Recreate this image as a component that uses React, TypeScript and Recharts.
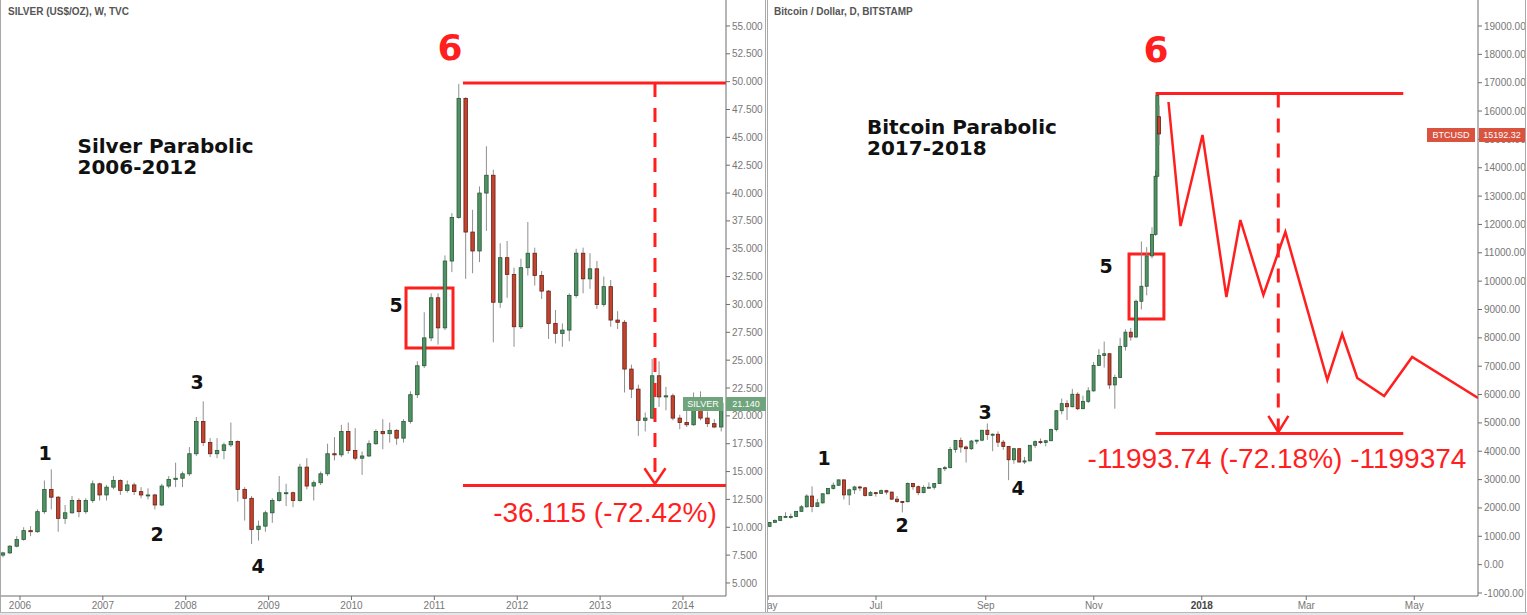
import React from 'react';
import { ComposedChart, Bar, Line, XAxis, YAxis, ReferenceLine, ReferenceArea } from 'recharts';

// ---- silver, monthly candles from Oct 2005 ----
const silverStartYear = 2005;
const silverStartMonth = 10;
const silverOpen = [
  7.5, 7.7, 8.3,
  8.9, 9.7, 9.6, 11.4, 13.4, 12.7, 10.8, 11.3, 12.4, 11.4, 12.4, 13.9,
  12.9, 13.6, 14.2, 13.3, 13.8, 13.2, 12.9, 12.9, 12.0, 13.7, 14.3, 14.4,
  14.8, 16.6, 19.5, 17.6, 16.6, 16.9, 17.4, 17.7, 13.4, 12.6, 9.8, 10.1,
  11.3, 12.4, 13.1, 13.1, 12.4, 15.4, 13.7, 14.0, 14.8, 16.6, 16.5, 18.6,
  16.9, 16.2, 16.4, 17.5, 18.6, 18.4, 18.7, 18.0, 19.5, 21.9, 24.5, 27.0,
  30.6, 27.9, 33.9, 37.8, 48.5, 36.5, 34.8, 40.0, 41.6, 30.2, 34.2, 32.7,
  28.0, 33.3, 34.6, 32.6, 31.2, 28.3, 27.4, 27.7, 30.8, 34.6, 32.3, 33.2,
  30.0, 31.6, 28.6, 28.4, 24.2, 22.4, 19.6, 19.8, 23.6, 21.7, 21.8, 19.8,
  19.4, 19.2, 21.3, 19.8, 19.3, 19.0,
];
const silverHigh = [
  7.8, 8.4, 9.2,
  10.0, 10.1, 11.6, 14.2, 15.2, 12.8, 12.0, 12.8, 12.6, 12.6, 14.2, 14.0,
  13.8, 14.6, 14.3, 14.2, 14.0, 13.6, 13.5, 13.0, 13.9, 14.6, 15.8, 15.0,
  17.2, 19.9, 21.3, 18.0, 18.0, 17.6, 19.4, 17.8, 13.6, 12.8, 10.6, 11.5,
  12.6, 14.6, 13.9, 13.2, 15.7, 16.2, 14.2, 15.0, 17.5, 18.1, 19.2, 19.4,
  18.9, 16.8, 17.8, 18.8, 19.7, 19.4, 18.8, 19.7, 22.2, 24.9, 29.3, 31.0,
  31.0, 34.4, 38.2, 49.8, 48.6, 38.5, 40.6, 44.2, 42.1, 35.5, 35.7, 33.3,
  34.1, 37.4, 35.1, 33.0, 31.3, 29.5, 28.3, 31.0, 35.0, 35.1, 34.6, 33.9,
  32.5, 32.2, 29.4, 28.6, 24.6, 22.8, 20.3, 25.1, 24.9, 22.6, 22.0, 20.1,
  20.6, 22.1, 22.2, 20.4, 19.7, 21.3,
];
const silverLow = [
  7.3, 7.6, 8.2,
  8.8, 9.2, 9.5, 11.2, 11.6, 9.6, 10.3, 11.2, 10.9, 11.2, 12.2, 12.4,
  12.4, 13.4, 12.9, 13.1, 12.9, 12.6, 12.5, 11.6, 11.9, 13.5, 13.6, 13.6,
  14.6, 16.4, 17.3, 16.3, 16.2, 16.1, 17.2, 12.3, 10.6, 8.5, 8.8, 9.6,
  10.4, 12.3, 11.9, 11.8, 12.3, 13.4, 12.4, 13.8, 14.6, 16.0, 16.3, 16.6,
  16.0, 14.7, 16.3, 17.4, 17.0, 17.6, 17.4, 17.6, 19.3, 21.6, 24.3, 26.7,
  26.4, 27.7, 32.9, 37.7, 32.3, 32.8, 33.8, 36.6, 26.6, 29.7, 30.6, 26.2,
  27.8, 32.6, 31.7, 30.5, 26.9, 26.5, 26.2, 26.7, 30.6, 31.0, 31.4, 29.6,
  29.8, 28.0, 27.8, 22.1, 21.6, 18.2, 18.6, 19.7, 20.8, 20.5, 19.6, 18.8,
  19.0, 19.1, 19.6, 19.0, 18.9, 18.6,
];
const silverClose = [
  7.7, 8.3, 8.9,
  9.7, 9.6, 11.4, 13.4, 12.7, 10.8, 11.3, 12.4, 11.4, 12.4, 13.9, 12.9,
  13.6, 14.2, 13.3, 13.8, 13.2, 12.9, 12.9, 12.0, 13.7, 14.3, 14.4, 14.8,
  16.6, 19.5, 17.6, 16.6, 16.9, 17.4, 17.7, 13.4, 12.6, 9.8, 10.1, 11.3,
  12.4, 13.1, 13.1, 12.4, 15.4, 13.7, 14.0, 14.8, 16.6, 16.5, 18.6, 16.9,
  16.2, 16.4, 17.5, 18.6, 18.4, 18.7, 18.0, 19.5, 21.9, 24.5, 27.0, 30.6,
  27.9, 33.9, 37.8, 48.5, 36.5, 34.8, 40.0, 41.6, 30.2, 34.2, 32.7, 28.0,
  33.3, 34.6, 32.6, 31.2, 28.3, 27.4, 27.7, 30.8, 34.6, 32.3, 33.2, 30.0,
  31.6, 28.6, 28.4, 24.2, 22.4, 19.6, 19.8, 23.6, 21.7, 21.8, 19.8, 19.4,
  19.2, 21.3, 19.8, 19.3, 19.0, 21.14,
];
const silverYearTicks = [2006, 2007, 2008, 2009, 2010, 2011, 2012, 2013, 2014];
const silverPriceTicks = [5, 7.5, 10, 12.5, 15, 17.5, 20, 22.5, 25, 27.5, 30, 32.5, 35, 37.5, 40, 42.5, 45, 47.5, 50, 52.5, 55];

// measured move on silver
const silverTop = 49.869;
const silverDrop = 36.115;

// ---- bitcoin, 3-day candles (day of 2017), last days daily ----
const btcDay = [121, 124, 127, 130, 133, 136, 139, 142, 145, 148, 151, 154, 157, 160, 163, 166, 169, 172, 175, 178, 181, 184, 187, 190, 193, 196, 199, 202, 205, 208, 211, 214, 217, 220, 223, 226, 229, 232, 235, 238, 241, 244, 247, 250, 253, 256, 259, 262, 265, 268, 271, 274, 277, 280, 283, 286, 289, 292, 295, 298, 301, 304, 307, 310, 313, 316, 319, 322, 325, 328, 331, 334, 337, 339, 340, 341];
const btcOpen = [1350, 1490, 1555, 1700, 1700, 1700, 1880, 2040, 2420, 2050, 2180, 2500, 2690, 2800, 2990, 2460, 2640, 2740, 2710, 2440, 2540, 2510, 2610, 2560, 2310, 2230, 2220, 2860, 2750, 2540, 2720, 2730, 2860, 3390, 3420, 4060, 4380, 4150, 4090, 4360, 4390, 4740, 4590, 4600, 4320, 4170, 3700, 4090, 3620, 3660, 4210, 4340, 4310, 4370, 4770, 5430, 5680, 5570, 6010, 5500, 5760, 6130, 7030, 7380, 7440, 6340, 6600, 7700, 8200, 8030, 9290, 9820, 10890, 11650, 13700, 15800];
const btcHigh = [1500, 1600, 1720, 1850, 1800, 1890, 2100, 2480, 2760, 2320, 2510, 2700, 2900, 3000, 2995, 2680, 2780, 2780, 2740, 2600, 2550, 2650, 2640, 2570, 2420, 2240, 2900, 2870, 2790, 2800, 2900, 2880, 3400, 3480, 4150, 4400, 4480, 4200, 4400, 4400, 4750, 4980, 4630, 4700, 4400, 4180, 4120, 4100, 3800, 4220, 4380, 4450, 4400, 4800, 5450, 5860, 5800, 6200, 6080, 5960, 6260, 7150, 7600, 7870, 7450, 6700, 8000, 8300, 8350, 9350, 11400, 11200, 11900, 13900, 16616, 16200];
const btcLow = [1340, 1480, 1540, 1680, 1620, 1690, 1870, 2020, 1850, 2040, 2150, 2480, 2650, 2780, 2300, 2100, 2490, 2600, 2400, 2420, 2400, 2500, 2470, 2290, 2180, 1840, 2200, 2640, 2450, 2520, 2700, 2650, 2850, 3300, 3400, 3950, 3950, 3600, 4050, 4250, 4350, 4400, 4000, 4150, 4050, 2980, 3560, 3600, 3550, 3650, 4120, 4250, 4170, 4360, 4700, 5300, 5100, 5550, 5450, 5500, 5700, 6100, 7000, 6950, 6200, 5500, 6580, 7550, 7900, 8000, 9000, 9500, 10800, 11600, 13600, 14800];
const btcClose = [1490, 1555, 1700, 1700, 1700, 1880, 2040, 2420, 2050, 2180, 2500, 2690, 2800, 2990, 2460, 2640, 2740, 2710, 2440, 2540, 2510, 2610, 2560, 2310, 2230, 2220, 2860, 2750, 2540, 2720, 2730, 2860, 3390, 3420, 4060, 4380, 4150, 4090, 4360, 4390, 4740, 4590, 4600, 4320, 4170, 3700, 4090, 3620, 3660, 4210, 4340, 4310, 4370, 4770, 5430, 5680, 5570, 6010, 5500, 5760, 6130, 7030, 7380, 7440, 6340, 6600, 7700, 8200, 8030, 9290, 9820, 10890, 11650, 13700, 16550, 15192.32];
const btcMonthTicks = [120, 181, 243, 304, 365, 424, 485];
const btcMonthLabels = ['May', 'Jul', 'Sep', 'Nov', '2018', 'Mar', 'May'];
const btcPriceTicks = [-1000, 0, 1000, 2000, 3000, 4000, 5000, 6000, 7000, 8000, 9000, 10000, 11000, 12000, 13000, 14000, 15000, 16000, 17000, 18000, 19000];

// hand-drawn projection path (day, price)
const btcPathDay = [346.2, 353.0, 365.4, 378.9, 386.8, 399.8, 412.2, 435.9, 444.3, 452.8, 468.0, 483.8, 521];
const btcPathPrice = [16319, 11945, 15155, 9441, 12157, 9511, 11734, 6513, 8136, 6584, 5949, 7325, 5878];

// measured move on bitcoin
const btcTop = 16616.2;
const btcDrop = 11993.74;

const silverRows = silverOpen.map((o, i) => ({
  t: silverStartYear + (silverStartMonth - 1 + i + 0.5) / 12,
  open: o, high: silverHigh[i], low: silverLow[i], close: silverClose[i],
}));
const btcRows = btcDay.map((d, i) => ({
  t: d, open: btcOpen[i], high: btcHigh[i], low: btcLow[i], close: btcClose[i],
}));
const btcPath = btcPathDay.map((d, i) => ({ t: d, v: btcPathPrice[i] }));

const RED = '#ff1f1f';
const AXIS = '#6d6d6d';
const SANS = '"Liberation Sans", Arial, sans-serif';
const BOLD = '"DejaVu Sans", Verdana, sans-serif';

const Candle = (props: any) => {
  const { x, y, width, height, payload, bw } = props;
  if (!payload) return null;
  const { open, close, high, low } = payload;
  const top = Math.min(y, y + height);
  const bot = Math.max(y, y + height);
  const k = high === low ? 0 : (bot - top) / (high - low);
  const oy = top + (high - open) * k;
  const cy = top + (high - close) * k;
  const cx = x + width / 2;
  const up = close >= open;
  const by = Math.min(oy, cy);
  const bh = Math.max(1, Math.abs(cy - oy));
  return (
    <g>
      <line x1={cx} x2={cx} y1={top} y2={bot} stroke="#8f8f8f" strokeWidth={1} />
      <rect x={cx - bw / 2} y={by} width={bw} height={bh}
        fill={up ? '#4f9264' : '#c4432f'} stroke={up ? '#2a5a38' : '#6a2015'} strokeWidth={0.8} />
    </g>
  );
};

const tickStyle = { fontSize: 10, fill: '#777', fontFamily: SANS };

const BtcTick = ({ x, y, payload }: any) => {
  const i = btcMonthTicks.indexOf(payload.value);
  const label = btcMonthLabels[i];
  return (
    <text x={x} y={y} dy="0.71em" textAnchor="middle" fontSize={10} fill={label === '2018' ? '#444' : '#777'}
      fontWeight={label === '2018' ? 'bold' : 'normal'} fontFamily={SANS}>{label}</text>
  );
};

const Txt = ({ x, y, size, color, bold, font, children }: any) => (
  <div style={{
    position: 'absolute', left: x, top: y, transform: 'translate(-50%, -50%)', whiteSpace: 'nowrap',
    fontSize: size, color, fontWeight: bold ? 'bold' : 'normal', fontFamily: font, lineHeight: 1,
  }}>{children}</div>
);

const Tag = ({ x, y, w, bg, children }: any) => (
  <div style={{
    position: 'absolute', left: x, top: y, width: w, height: 14, background: bg, color: '#fff',
    fontSize: 9, fontFamily: SANS, lineHeight: '14px', textAlign: 'center',
  }}>{children}</div>
);

export default function App() {
  const silverBottom = silverTop - silverDrop;
  const btcBottom = btcTop - btcDrop;
  return (
    <div style={{ position: 'absolute', left: 0, top: 0, width: 1527, height: 615, background: '#fff', overflow: 'hidden' }}>
      {/* left panel: silver */}
      <div style={{ position: 'absolute', left: 0, top: 0, width: 766, height: 612, overflow: 'hidden' }}>
        <ComposedChart width={766} height={612} data={silverRows} margin={{ top: 0, right: 0, bottom: 0, left: 1 }}>
          <XAxis dataKey="t" type="number" domain={[2005.771, 2014.519]} allowDataOverflow ticks={silverYearTicks}
            height={16} tickSize={4} tickMargin={2} stroke={AXIS} tick={tickStyle} interval={0} />
          <YAxis orientation="right" type="number" domain={[3.83, 57.33]} allowDataOverflow ticks={silverPriceTicks}
            width={40} tickSize={4} tickMargin={2} stroke={AXIS} tick={{ ...tickStyle, textAnchor: 'start' }} interval={0}
            tickFormatter={(v: number) => v.toFixed(3)} />
          <Bar dataKey={(d: any) => [d.low, d.high]} isAnimationActive={false}
            shape={(p: any) => <Candle {...p} bw={3.5} />} />
          <ReferenceLine segment={[{ x: 2011.345, y: silverTop }, { x: 2014.519, y: silverTop }]} stroke={RED} strokeWidth={3} />
          <ReferenceLine segment={[{ x: 2011.345, y: silverBottom }, { x: 2014.519, y: silverBottom }]} stroke={RED} strokeWidth={3} />
          <ReferenceLine segment={[{ x: 2013.662, y: silverTop }, { x: 2013.662, y: silverBottom + 0.2 }]} stroke={RED} strokeWidth={3} strokeDasharray="14 11" />
          <ReferenceLine segment={[{ x: 2013.535, y: 15.3 }, { x: 2013.662, y: silverBottom + 0.15 }]} stroke={RED} strokeWidth={2.5} />
          <ReferenceLine segment={[{ x: 2013.789, y: 15.3 }, { x: 2013.662, y: silverBottom + 0.15 }]} stroke={RED} strokeWidth={2.5} />
          <ReferenceArea x1={2010.658} x2={2011.225} y1={26.09} y2={31.48} fill="none" fillOpacity={0} stroke={RED} strokeWidth={3} />
        </ComposedChart>
      </div>

      {/* right panel: bitcoin */}
      <div style={{ position: 'absolute', left: 767, top: 0, width: 760, height: 612, overflow: 'hidden' }}>
        <ComposedChart width={760} height={612} data={btcRows} margin={{ top: 0, right: 0, bottom: 0, left: 1 }}>
          <XAxis dataKey="t" type="number" domain={[120, 521]} allowDataOverflow ticks={btcMonthTicks}
            height={16} tickSize={4} tickMargin={2} stroke={AXIS} tick={<BtcTick />} interval={0} />
          <YAxis orientation="right" type="number" domain={[-1106, 19917]} allowDataOverflow ticks={btcPriceTicks}
            width={49} tickSize={4} tickMargin={2} stroke={AXIS} tick={{ ...tickStyle, textAnchor: 'start' }} interval={0}
            tickFormatter={(v: number) => v.toFixed(2)} />
          <Bar dataKey={(d: any) => [d.low, d.high]} isAnimationActive={false}
            shape={(p: any) => <Candle {...p} bw={3} />} />
          <Line data={btcPath} dataKey="v" type="linear" stroke={RED} strokeWidth={2.5} dot={false} isAnimationActive={false} />
          <ReferenceLine segment={[{ x: 338.9, y: btcTop }, { x: 478.8, y: btcTop }]} stroke={RED} strokeWidth={3} />
          <ReferenceLine segment={[{ x: 338.9, y: btcBottom }, { x: 478.8, y: btcBottom }]} stroke={RED} strokeWidth={3} />
          <ReferenceLine segment={[{ x: 408.2, y: btcTop }, { x: 408.2, y: btcBottom + 60 }]} stroke={RED} strokeWidth={3} strokeDasharray="14 11" />
          <ReferenceLine segment={[{ x: 402.6, y: 5250 }, { x: 408.2, y: btcBottom + 50 }]} stroke={RED} strokeWidth={2.5} />
          <ReferenceLine segment={[{ x: 413.9, y: 5250 }, { x: 408.2, y: btcBottom + 50 }]} stroke={RED} strokeWidth={2.5} />
          <ReferenceArea x1={323.9} x2={343.6} y1={8665} y2={10958} fill="none" fillOpacity={0} stroke={RED} strokeWidth={3} />
        </ComposedChart>
      </div>

      {/* frames */}
      <div style={{ position: 'absolute', left: 0, top: 0, width: 1, height: 612, background: '#a8a8a8' }} />
      <div style={{ position: 'absolute', left: 765, top: 0, width: 1, height: 612, background: '#a8a8a8' }} />
      <div style={{ position: 'absolute', left: 767, top: 0, width: 1, height: 612, background: '#a8a8a8' }} />
      <div style={{ position: 'absolute', left: 1525, top: 0, width: 1, height: 612, background: '#a8a8a8' }} />
      <div style={{ position: 'absolute', left: 0, top: 612, width: 1527, height: 3, background: '#e4e6ea', borderTop: '1px solid #b8b8b8' }} />

      {/* titles */}
      <div style={{ position: 'absolute', left: 8, top: 6, fontSize: 10, fontWeight: 'bold', color: '#555', fontFamily: SANS }}>SILVER (US$/OZ), W, TVC</div>
      <div style={{ position: 'absolute', left: 774, top: 6, fontSize: 10, fontWeight: 'bold', color: '#555', fontFamily: SANS }}>Bitcoin / Dollar, D, BITSTAMP</div>

      <Txt x={165} y={146} size={20} bold font={BOLD} color="#111"><div style={{ width: 175 }}>Silver Parabolic</div></Txt>
      <Txt x={165} y={167} size={20} bold font={BOLD} color="#111"><div style={{ width: 175 }}>2006-2012</div></Txt>
      <Txt x={962} y={127} size={20} bold font={BOLD} color="#111"><div style={{ width: 190 }}>Bitcoin Parabolic</div></Txt>
      <Txt x={962} y={148} size={20} bold font={BOLD} color="#111"><div style={{ width: 190 }}>2017-2018</div></Txt>

      {/* wave counts */}
      <Txt x={45} y={453} size={19} bold font={BOLD} color="#111">1</Txt>
      <Txt x={157} y={534} size={19} bold font={BOLD} color="#111">2</Txt>
      <Txt x={197} y={382} size={19} bold font={BOLD} color="#111">3</Txt>
      <Txt x={258} y={566} size={19} bold font={BOLD} color="#111">4</Txt>
      <Txt x={396} y={305} size={19} bold font={BOLD} color="#111">5</Txt>
      <Txt x={450} y={48} size={36} bold font={BOLD} color={RED}>6</Txt>

      <Txt x={824} y={458} size={19} bold font={BOLD} color="#111">1</Txt>
      <Txt x={902} y={525} size={19} bold font={BOLD} color="#111">2</Txt>
      <Txt x={985} y={412} size={19} bold font={BOLD} color="#111">3</Txt>
      <Txt x={1018} y={488} size={19} bold font={BOLD} color="#111">4</Txt>
      <Txt x={1106} y={266} size={19} bold font={BOLD} color="#111">5</Txt>
      <Txt x={1156} y={50} size={36} bold font={BOLD} color={RED}>6</Txt>

      <Txt x={605} y={513} size={28} font={SANS} color={RED}>-36.115 (-72.42%)</Txt>
      <Txt x={1277} y={459} size={28} font={SANS} color={RED}>-11993.74 (-72.18%) -1199374</Txt>

      {/* last price tags */}
      <Tag x={683} y={397} w={40} bg="#6fa47c">SILVER</Tag>
      <Tag x={726} y={397} w={40} bg="#6fa47c">21.140</Tag>
      <Tag x={1427} y={128} w={48} bg="#d9533f">BTCUSD</Tag>
      <Tag x={1479} y={128} w={46} bg="#d9533f">15192.32</Tag>
    </div>
  );
}
